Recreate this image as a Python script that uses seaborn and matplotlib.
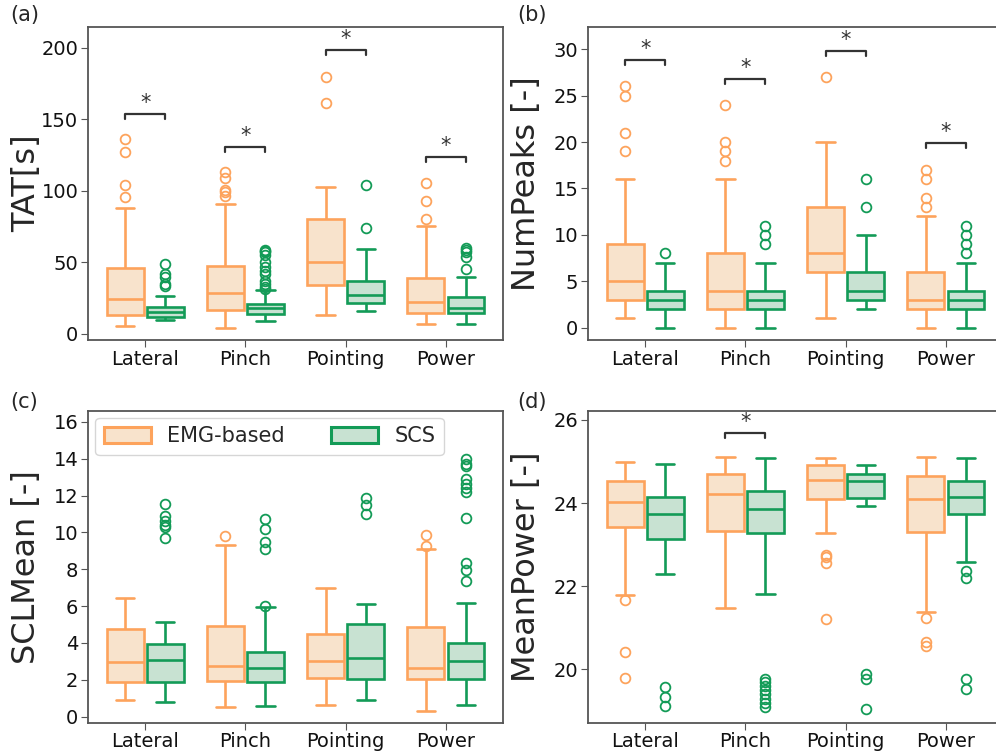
import matplotlib
matplotlib.use("Agg")
import matplotlib.pyplot as plt
from matplotlib.patches import Patch
import seaborn as sns
import numpy as np
import pandas as pd


TASKS = ["Lateral", "Pinch", "Pointing", "Power"]
METHODS = ["EMG-based", "SCS"]

# box summaries: [whisker low, Q1, median, Q3, whisker high] per task
tat_emg = [[5.8, 13.3, 24.3, 46.0, 88.0], [4.4, 16.8, 28.5, 47.6, 91.0],
           [13.3, 34.3, 50.2, 80.3, 102.5], [6.8, 14.5, 22.4, 39.4, 75.8]]
tat_scs = [[9.8, 12.1, 15.2, 18.7, 26.6], [9.3, 13.8, 18.0, 20.8, 30.8],
           [16.3, 21.5, 27.0, 37.3, 59.7], [6.8, 14.5, 18.0, 25.7, 40.1]]
tat_emg_out = [[96, 104, 127, 136], [96.6, 99.4, 100.8, 109, 113], [161.5, 179.7], [80.7, 93, 105.5]]
tat_scs_out = [[33.6, 34.8, 39.7, 41.8, 48.8],
               [31.5, 33, 35, 37, 42, 44, 47, 50, 55, 57, 58, 59],
               [74.2, 104], [45.3, 54, 57, 58.8, 60]]

peaks_emg = [[1, 3, 5, 9, 16], [0, 2, 4, 8, 16], [1, 6, 8, 13, 20], [0, 2, 3, 6, 12]]
peaks_scs = [[0, 2, 3, 4, 7], [0, 2, 3, 4, 7], [2, 3, 4, 6, 10], [0, 2, 3, 4, 7]]
peaks_emg_out = [[19, 21, 25, 26], [18, 19, 20, 24], [27], [13, 14, 16, 17]]
peaks_scs_out = [[8], [9, 10, 11], [13, 16], [8, 9, 10, 11]]

scl_emg = [[0.9, 1.9, 2.95, 4.77, 6.43], [0.5, 1.96, 2.75, 4.93, 9.33],
           [0.63, 2.08, 3.04, 4.48, 7.0], [0.33, 2.03, 2.66, 4.86, 9.1]]
scl_scs = [[0.82, 1.87, 3.08, 3.95, 5.15], [0.58, 1.87, 2.66, 3.5, 5.93],
           [0.9, 2.03, 3.17, 5.02, 6.1], [0.63, 2.03, 3.03, 3.99, 6.16]]
scl_emg_out = [[], [9.78], [], [9.24, 9.84]]
scl_scs_out = [[9.7, 10.3, 10.4, 10.6, 10.9, 11.55], [6.0, 9.1, 9.46, 10.2, 10.7],
               [11.0, 11.5, 11.87],
               [7.34, 7.97, 8.33, 10.8, 12.2, 12.4, 12.6, 12.9, 13.6, 13.7, 14.0]]

pow_emg = [[21.78, 23.42, 24.02, 24.52, 25.0], [21.48, 23.34, 24.22, 24.7, 25.12],
           [23.27, 24.1, 24.56, 24.92, 25.08], [21.39, 23.3, 24.11, 24.66, 25.12]]
pow_scs = [[22.29, 23.14, 23.73, 24.15, 24.94], [21.81, 23.27, 23.87, 24.3, 25.08],
           [23.94, 24.13, 24.53, 24.7, 24.92], [22.59, 23.74, 24.14, 24.52, 25.08]]
pow_emg_out = [[21.67, 20.41, 19.8], [], [22.75, 22.7, 22.57, 21.21], [21.24, 20.67, 20.56]]
pow_scs_out = [[19.57, 19.33, 19.12], [19.78, 19.7, 19.6, 19.5, 19.4, 19.3, 19.2, 19.1],
               [19.89, 19.76, 19.04], [22.37, 22.19, 19.77, 19.54]]

# significance brackets: (task index, bracket height)
tat_sig = [(0, 154), (1, 130.5), (2, 198.4), (3, 124)]
peaks_sig = [(0, 28.85), (1, 26.8), (2, 29.85), (3, 19.9)]
pow_sig = [(1, 25.68)]

EDGE = {"EMG-based": "#FDA35C", "SCS": "#139B57"}
FILL = {"EMG-based": "#F8E3CC", "SCS": "#C8E2D2"}


def rebuild(stats, outliers, n=50):
    # sample whose quartiles / whiskers / fliers give back the read summary
    lo, q1, med, q3, hi = stats
    return [lo] + [q1] * n + [med] * n + [q3] * n + [hi] + list(outliers)


def long_frame(emg, scs, emg_out, scs_out):
    rows = []
    for m, st, out in [("EMG-based", emg, emg_out), ("SCS", scs, scs_out)]:
        for task, s, o in zip(TASKS, st, out):
            for v in rebuild(s, o):
                rows.append((task, m, v))
    return pd.DataFrame(rows, columns=["task", "method", "value"])


def draw_panel(ax, df, ylabel, ylim, yticks, sig):
    for m in METHODS:
        sns.boxplot(data=df[df["method"] == m], x="task", y="value", hue="method",
                    order=TASKS, hue_order=METHODS, dodge=True, width=0.8, gap=0.08,
                    palette=FILL, saturation=1, linecolor=EDGE[m], linewidth=1.9,
                    flierprops=dict(marker="o", markersize=7, markerfacecolor="none",
                                    markeredgewidth=1.3),
                    legend=False, ax=ax)
    span = ylim[1] - ylim[0]
    for i, h in sig:
        leg = span * 0.016
        ax.plot([i - 0.2, i - 0.2, i + 0.2, i + 0.2], [h - leg, h, h, h - leg],
                color="#333333", lw=1.6)
        ax.text(i, h + span * 0.003, "*", ha="center", va="bottom", fontsize=15, color="#333333")
    ax.set_xlim(-0.57, 3.57)
    ax.set_ylim(*ylim)
    ax.set_yticks(yticks)
    ax.set_xlabel("")
    ax.set_ylabel(ylabel, fontsize=23)
    ax.yaxis.set_label_coords(-0.11, 0.5)
    ax.tick_params(labelsize=14, length=5, pad=2, color="#555555", labelcolor="#111111")
    for sp in ax.spines.values():
        sp.set_color("#555555")
        sp.set_linewidth(1.3)


sns.set_style("ticks")
fig = plt.figure(figsize=(9.96, 7.53), dpi=100)
w, h = 0.4167, 0.4157
ax_a = fig.add_axes([0.0884, 0.5485, w, h])
ax_b = fig.add_axes([0.5904, 0.5485, w, h])
ax_c = fig.add_axes([0.0884, 0.0402, w, 0.4143])
ax_d = fig.add_axes([0.5904, 0.0402, w, 0.4143])

draw_panel(ax_a, long_frame(tat_emg, tat_scs, tat_emg_out, tat_scs_out),
           "TAT[s]", (-4.2, 214.7), [0, 50, 100, 150, 200], tat_sig)
draw_panel(ax_b, long_frame(peaks_emg, peaks_scs, peaks_emg_out, peaks_scs_out),
           "NumPeaks [-]", (-1.33, 32.4), [0, 5, 10, 15, 20, 25, 30], peaks_sig)
draw_panel(ax_c, long_frame(scl_emg, scl_scs, scl_emg_out, scl_scs_out),
           "SCLMean [-]", (-0.33, 16.6), [0, 2, 4, 6, 8, 10, 12, 14, 16], [])
draw_panel(ax_d, long_frame(pow_emg, pow_scs, pow_emg_out, pow_scs_out),
           "MeanPower [-]", (18.72, 26.22), [20, 22, 24, 26], pow_sig)

handles = [Patch(facecolor=FILL[m], edgecolor=EDGE[m], linewidth=2.2, label=m) for m in METHODS]
ax_c.legend(handles=handles, loc="upper left", ncol=2, fontsize=15, handlelength=2.25,
            handleheight=0.75, handletextpad=0.8, columnspacing=2.2, borderaxespad=0.35,
            frameon=True)

for lab, x, y in [("(a)", 0.010, 0.993), ("(b)", 0.519, 0.993),
                  ("(c)", 0.010, 0.479), ("(d)", 0.519, 0.479)]:
    fig.text(x, y, lab, ha="left", va="top", fontsize=15)

fig.savefig("out.png", dpi=100)
